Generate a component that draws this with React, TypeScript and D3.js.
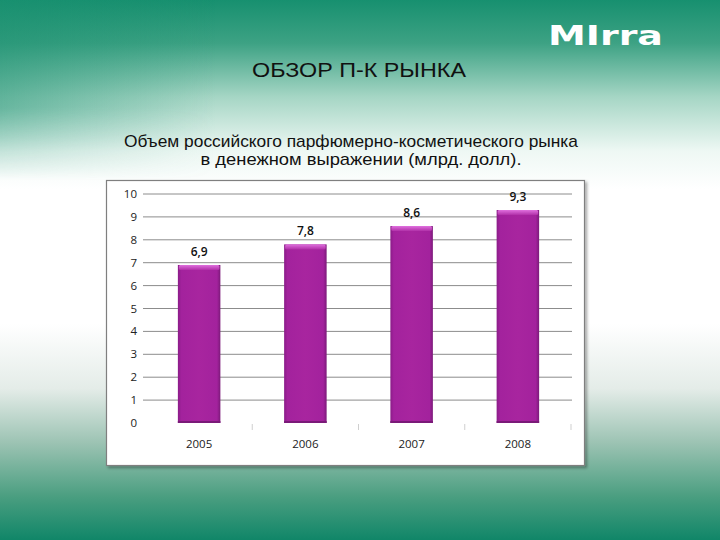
import React from "react";
import * as d3 from "d3";

const years = ["2005", "2006", "2007", "2008"];
const values = [6.9, 7.8, 8.6, 9.3];
const valueLabels = ["6,9", "7,8", "8,6", "9,3"];
const yTicks = [0, 1, 2, 3, 4, 5, 6, 7, 8, 9, 10];

const W = 720;
const H = 540;

export default function App() {
  const x = d3.scaleBand<string>().domain(years).range([146, 571]).paddingInner(0.6).paddingOuter(0.3);
  const y = d3.scaleLinear().domain([0, 10]).range([423, 194]);
  const x0 = 146;
  const boundaries = d3.range(years.length + 1).map((i) => x0 + i * ((571 - 146) / years.length));

  return (
    <svg width={W} height={H} style={{ position: "absolute", left: 0, top: 0, display: "block" }}>
      <defs>
        <linearGradient id="bg" x1="0" y1="0" x2="0" y2="1">
          <stop offset="0" stopColor="#17906f" />
          <stop offset="0.08" stopColor="#3da284" />
          <stop offset="0.18" stopColor="#a6d6c5" />
          <stop offset="0.28" stopColor="#eef8f4" />
          <stop offset="0.35" stopColor="#ffffff" />
          <stop offset="0.6" stopColor="#ffffff" />
          <stop offset="0.72" stopColor="#e4ece8" />
          <stop offset="0.82" stopColor="#9cc3b3" />
          <stop offset="0.92" stopColor="#4a9e80" />
          <stop offset="1" stopColor="#108668" />
        </linearGradient>
        <linearGradient id="leftTop" x1="0" y1="0" x2="1" y2="0">
          <stop offset="0" stopColor="#1a9070" stopOpacity="0.5" />
          <stop offset="0.3" stopColor="#1a9070" stopOpacity="0" />
        </linearGradient>
        <linearGradient id="fadeV" x1="0" y1="0" x2="0" y2="1">
          <stop offset="0" stopColor="#fff" stopOpacity="1" />
          <stop offset="0.6" stopColor="#fff" stopOpacity="1" />
          <stop offset="1" stopColor="#fff" stopOpacity="0" />
        </linearGradient>
        <mask id="topMask">
          <rect x={0} y={0} width={W} height={180} fill="url(#fadeV)" />
        </mask>
        <linearGradient id="barGrad" x1="0" y1="0" x2="1" y2="0">
          <stop offset="0" stopColor="#8a1c88" />
          <stop offset="0.08" stopColor="#a3229d" />
          <stop offset="0.5" stopColor="#a8259f" />
          <stop offset="0.92" stopColor="#a3229d" />
          <stop offset="1" stopColor="#7c1a7a" />
        </linearGradient>
        <linearGradient id="barTop" x1="0" y1="0" x2="0" y2="1">
          <stop offset="0" stopColor="#e070de" />
          <stop offset="1" stopColor="#b030a8" />
        </linearGradient>
        <filter id="shadow" x="-5%" y="-5%" width="110%" height="110%">
          <feDropShadow dx="2" dy="2" stdDeviation="1.5" floodColor="#000" floodOpacity="0.35" />
        </filter>
      </defs>

      <rect x={0} y={0} width={W} height={H} fill="url(#bg)" />
      <rect x={0} y={0} width={W} height={180} fill="url(#leftTop)" mask="url(#topMask)" />

      <text x={548} y={45} fill="#ffffff" fontFamily="DejaVu Sans, sans-serif" fontSize={27} fontWeight={600} textLength={115} lengthAdjust="spacingAndGlyphs">MIrra</text>

      <text x={359} y={77} textAnchor="middle" fontFamily="Liberation Sans Narrow, Liberation Sans, Arial, sans-serif" fontSize={20} fill="#111" textLength={214} lengthAdjust="spacingAndGlyphs">ОБЗОР П-К РЫНКА</text>
      <text x={351} y={147} textAnchor="middle" fontFamily="Liberation Sans Narrow, Liberation Sans, Arial, sans-serif" fontSize={17} fill="#111" textLength={454} lengthAdjust="spacingAndGlyphs">Объем российского парфюмерно-косметического рынка</text>
      <text x={361} y={165} textAnchor="middle" fontFamily="Liberation Sans Narrow, Liberation Sans, Arial, sans-serif" fontSize={17} fill="#111" textLength={321} lengthAdjust="spacingAndGlyphs">в денежном выражении (млрд. долл).</text>

      <rect x={106.5} y={180.5} width={478} height={285} fill="#ffffff" stroke="#7f7f7f" strokeWidth={1.2} filter="url(#shadow)" />

      {yTicks.map((t) => (
        <g key={t}>
          {t > 0 && <line x1={143} x2={572} y1={y(t)} y2={y(t)} stroke="#8c8c8c" strokeWidth={1} />}
          <text x={137} y={y(t) + 4} textAnchor="end" fontFamily="Open Sans, sans-serif" fontSize={11.5} fill="#222">{t}</text>
        </g>
      ))}

      {boundaries.slice(1).map((b, i) => (
        <line key={i} x1={b} x2={b} y1={424} y2={430} stroke="#cfcfcf" strokeWidth={1} />
      ))}

      {years.map((yr, i) => {
        const bx = x(yr)!;
        const bw = x.bandwidth();
        const top = y(values[i]);
        return (
          <g key={yr}>
            <rect x={bx} y={top} width={bw} height={y(0) - top} fill="url(#barGrad)" />
            <rect x={bx + 1} y={top} width={bw - 2} height={5} fill="url(#barTop)" rx={1.5} />
            <rect x={bx} y={y(0) - 2} width={bw} height={2} fill="#7a1a78" />
            <text x={bx + bw / 2} y={top - 9} textAnchor="middle" fontFamily="Open Sans, sans-serif" fontSize={12} fontWeight={600} fill="#111">{valueLabels[i]}</text>
            <text x={bx + bw / 2} y={448} textAnchor="middle" fontFamily="Open Sans, sans-serif" fontSize={11.5} fill="#222">{yr}</text>
          </g>
        );
      })}
    </svg>
  );
}
